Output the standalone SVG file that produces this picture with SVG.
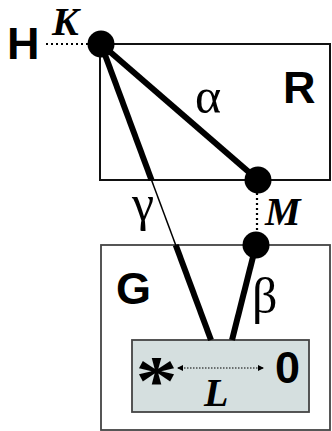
<svg xmlns="http://www.w3.org/2000/svg" width="332" height="431" viewBox="0 0 332 431">
<style>
.box{fill:none;stroke:#111;stroke-width:2}
.big{font-family:"Liberation Sans",Arial,sans-serif;font-weight:bold;font-size:45px;fill:#000}
.var{font-family:"Liberation Serif","Times New Roman",serif;font-weight:bold;font-style:italic;font-size:40px;fill:#000}
.greek{font-family:"Liberation Serif","Times New Roman",serif;font-size:50px;fill:#000}
.thick{stroke:#000;stroke-width:6;stroke-linecap:butt}
.thin{stroke:#000;stroke-width:1.5}
.dot{stroke:#000;stroke-width:2.2;stroke-dasharray:2 3}
.node{fill:#000}
</style>
<defs>
<marker id="ah" markerWidth="6" markerHeight="6" refX="5" refY="3" orient="auto-start-reverse" markerUnits="userSpaceOnUse">
<path d="M0,0 L6,3 L0,6 Z" fill="#000"/>
</marker>
</defs>
<g id="G">
<rect x="101" y="245" width="229" height="185" fill="#fff" stroke="#444" stroke-width="1.8"/>
<text class="big" x="116" y="304">G</text>
</g>
<g id="R">
<rect class="box" x="100" y="44" width="230" height="136"/>
<text class="big" x="283" y="103">R</text>
</g>
<g id="L">
<rect x="132" y="340" width="177" height="72" fill="#d5dfdf" stroke="#444" stroke-width="1.8"/>
<text transform="translate(156.5,404) scale(1.2,1)" x="0" y="0" font-family="Liberation Serif,serif" font-weight="bold" font-size="70" text-anchor="middle">*</text>
<text class="big" x="275" y="383" font-size="40">0</text>
<text class="var" x="204" y="406">L</text>
</g>
<g id="connectors">
<line class="dot" x1="46" y1="44" x2="88" y2="44"/>
<line class="dot" x1="257" y1="193" x2="257" y2="233"/>
<line class="thick" x1="101" y1="44" x2="151.5" y2="180"/>
<line class="thin" x1="151.5" y1="180" x2="175.7" y2="245"/>
<line class="thick" x1="175.7" y1="245" x2="211" y2="340"/>
<line class="thick" x1="101" y1="44" x2="258" y2="180"/>
<line class="thick" x1="256" y1="245" x2="232" y2="340"/>
<line x1="178" y1="368" x2="263" y2="368" stroke="#000" stroke-width="1.2" stroke-dasharray="1.5 1.5" marker-start="url(#ah)" marker-end="url(#ah)"/>
</g>
<g id="H">
<text class="big" x="7" y="59" font-size="43">H</text>
</g>
<g id="K">
<circle class="node" cx="101" cy="44" r="13.5"/>
<text class="var" x="52" y="35" font-size="36">K</text>
</g>
<g id="M">
<circle class="node" cx="258" cy="180" r="13.5"/>
<circle class="node" cx="256" cy="245" r="13.5"/>
<text class="var" x="265" y="225">M</text>
</g>
<g id="labels">
<text class="greek" x="195" y="113">α</text>
<text class="greek" x="132" y="220">γ</text>
<text class="greek" x="252" y="313">β</text>
</g>
</svg>
